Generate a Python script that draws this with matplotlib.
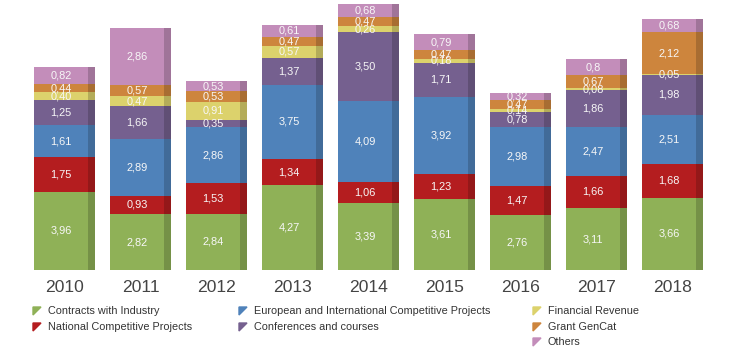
import matplotlib
matplotlib.use("Agg")
import matplotlib.pyplot as plt
import matplotlib.colors as mcolors
from matplotlib.patches import Polygon
from matplotlib import font_manager
import numpy as np

years = ["2010", "2011", "2012", "2013", "2014", "2015", "2016", "2017", "2018"]
series_names = ["Contracts with Industry", "National Competitive Projects",
                "European and International Competitive Projects", "Conferences and courses",
                "Financial Revenue", "Grant GenCat", "Others"]
contracts = [3.96, 2.82, 2.84, 4.27, 3.39, 3.61, 2.76, 3.11, 3.66]
national = [1.75, 0.93, 1.53, 1.34, 1.06, 1.23, 1.47, 1.66, 1.68]
european = [1.61, 2.89, 2.86, 3.75, 4.09, 3.92, 2.98, 2.47, 2.51]
conferences = [1.25, 1.66, 0.35, 1.37, 3.50, 1.71, 0.78, 1.86, 1.98]
financial = [0.40, 0.47, 0.91, 0.57, 0.26, 0.18, 0.14, 0.08, 0.05]
gencat = [0.44, 0.57, 0.53, 0.47, 0.47, 0.47, 0.47, 0.67, 2.12]
others = [0.82, 2.86, 0.53, 0.61, 0.68, 0.79, 0.32, 0.8, 0.68]
labels = [
    ["3,96", "2,82", "2,84", "4,27", "3,39", "3,61", "2,76", "3,11", "3,66"],
    ["1,75", "0,93", "1,53", "1,34", "1,06", "1,23", "1,47", "1,66", "1,68"],
    ["1,61", "2,89", "2,86", "3,75", "4,09", "3,92", "2,98", "2,47", "2,51"],
    ["1,25", "1,66", "0,35", "1,37", "3,50", "1,71", "0,78", "1,86", "1,98"],
    ["0,40", "0,47", "0,91", "0,57", "0,26", "0,18", "0,14", "0,08", "0,05"],
    ["0,44", "0,57", "0,53", "0,47", "0,47", "0,47", "0,47", "0,67", "2,12"],
    ["0,82", "2,86", "0,53", "0,61", "0,68", "0,79", "0,32", "0,8", "0,68"],
]
series = [contracts, national, european, conferences, financial, gencat, others]
colors = ["#8fb157", "#b41d1f", "#4f82ba", "#75608f", "#dcd26c", "#cd853d", "#c38dba"]

avail = {f.name for f in font_manager.fontManager.ttflist}
if "Liberation Sans Narrow" in avail:
    FAM = "Liberation Sans Narrow"
    scale = 1.0
else:
    FAM = "Liberation Sans"
    scale = 0.85

def darker(c, f=0.82):
    r, g, b = mcolors.to_rgb(c)
    return (r * f, g * f, b * f)

fig = plt.figure(figsize=(7.4, 3.5), dpi=100)
ax = fig.add_axes([23 / 740, 80 / 350, 684 / 740, 270 / 350])
ax.set_xlim(-0.5, 8.5)
ax.set_ylim(0, 270 / 19.8)
ax.axis("off")

x = np.arange(len(years))
front_w = 54 / 76
side_off = 27 / 76
side_w = 7 / 76
bottom = np.zeros(len(years))
for vals, col, labs in zip(series, colors, labels):
    vals = np.array(vals)
    ax.bar(x, vals, width=front_w, bottom=bottom, color=col, linewidth=0)
    ax.bar(x + side_off, vals, width=side_w, bottom=bottom, color=darker(col),
           linewidth=0, align="edge")
    for xi, b, v, lab in zip(x, bottom, vals, labs):
        ax.text(xi, b + v / 2, lab, ha="center", va="center", fontsize=9.3 * scale,
                color="#f7f7f7", family=FAM)
    bottom = bottom + vals

for xi, y in zip(x, years):
    ax.text(xi + 4 / 76, -0.9, y, ha="center", va="center", fontsize=14.8 * scale,
            color="#444444", clip_on=False, family=FAM)

# legend (manual)
leg_items = [
    (0, 37, 311), (1, 37, 327), (2, 243, 311), (3, 243, 327),
    (4, 537, 311), (5, 537, 327), (6, 537, 342),
]
for idx, px, py in leg_items:
    yb = 350 - py
    tri = Polygon([[px - 4, yb + 4], [px + 4, yb + 4], [px - 4, yb - 4]],
                  closed=True, transform=None, color=colors[idx])
    fig.patches.append(tri)
    fig.text((px + 11) / 740, yb / 350, series_names[idx], ha="left", va="center",
             fontsize=9.2 * scale, color="#333333", family=FAM)

fig.savefig("out.png", dpi=100)
